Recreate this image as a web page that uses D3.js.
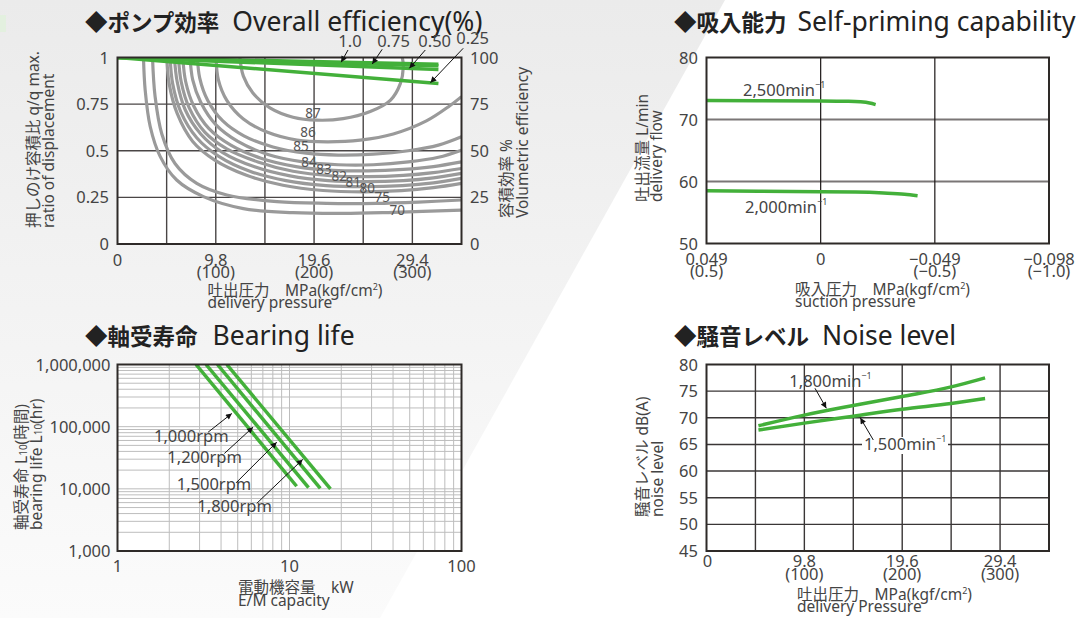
<!DOCTYPE html>
<html><head><meta charset="utf-8">
<script src="https://cdn.jsdelivr.net/npm/d3@7"></script>
<style>
body{margin:0;background:#fff;}
svg{display:block;font-family:"Noto Sans","Noto Sans CJK JP",sans-serif;}
</style></head><body>
<svg id="c" width="1084" height="618"></svg>
<script>
// ---------- DATA ----------
// Panel 1: overall efficiency
const pressureGrid = [4.9, 9.8, 14.7, 19.6, 24.5, 29.4];
const pressureTicks = [0, 9.8, 19.6, 29.4];
const pressureTickKgf = ["", "(100)", "(200)", "(300)"];
const ratioTicks = [0, 0.25, 0.5, 0.75, 1];
const ratioTickLabels = ["0", "0.25", "0.5", "0.75", "1"];
const volTicks = [0, 25, 50, 75, 100];
const effLevels = ["87", "86", "85", "84", "83", "82", "81", "80", "", "75", "70"];
const eff87 = [[12.2,1.0],[12.55,0.90],[13.5,0.81],[15.2,0.73],[17.5,0.68],[19.9,0.664],[22.5,0.672],[25.2,0.71],[27.2,0.77],[28.2,0.86],[28.5,0.95],[28.4,1.0]];
const eff86 = [[9.83,1.0],[10.06,0.88],[10.9,0.77],[12.55,0.67],[14.9,0.60],[17.9,0.557],[20.9,0.548],[24.2,0.557],[27.5,0.59],[30.8,0.66],[33.1,0.74],[34.3,0.79]];
const eff85 = [[7.97,1.0],[8.2,0.89],[9.0,0.77],[10.5,0.66],[12.6,0.58],[15.5,0.52],[18.8,0.487],[22.0,0.477],[25.5,0.482],[29.0,0.50],[32.0,0.53],[34.3,0.575]];
const eff84 = [[7.24,1.0],[7.5,0.88],[8.3,0.76],[9.8,0.64],[12.0,0.55],[15.0,0.48],[18.5,0.44],[22.0,0.425],[25.5,0.425],[29.0,0.44],[32.0,0.465],[34.3,0.503]];
const eff83 = [[6.51,1.0],[6.8,0.87],[7.6,0.74],[9.1,0.62],[11.3,0.53],[14.3,0.46],[17.8,0.415],[21.5,0.395],[25.0,0.392],[28.5,0.40],[31.5,0.415],[34.3,0.44]];
const eff82 = [[6.08,1.0],[6.35,0.87],[7.15,0.73],[8.7,0.60],[10.9,0.51],[14.0,0.44],[17.5,0.39],[21.2,0.366],[25.0,0.361],[28.5,0.368],[31.5,0.383],[34.3,0.405]];
const eff81 = [[5.68,1.0],[5.95,0.87],[6.75,0.72],[8.3,0.59],[10.5,0.49],[13.6,0.415],[17.2,0.365],[21.0,0.34],[24.8,0.334],[28.5,0.34],[31.5,0.355],[34.3,0.379]];
const eff80 = [[5.25,1.0],[5.5,0.86],[6.3,0.71],[7.9,0.57],[10.1,0.47],[13.2,0.39],[16.8,0.34],[20.8,0.313],[24.6,0.307],[28.4,0.313],[31.5,0.328],[34.3,0.352]];
const eff79 = [[4.92,1.0],[5.15,0.86],[5.95,0.70],[7.5,0.55],[9.7,0.45],[12.8,0.37],[16.5,0.315],[20.5,0.287],[24.5,0.28],[28.3,0.286],[31.5,0.302],[34.3,0.325]];
const eff75 = [[3.49,1.0],[3.75,0.79],[4.42,0.59],[5.75,0.43],[7.9,0.325],[10.9,0.263],[15.9,0.227],[20.85,0.218],[25.8,0.218],[30.0,0.225],[34.3,0.236]];
const eff70 = [[2.59,1.0],[2.76,0.825],[3.26,0.63],[4.25,0.47],[5.9,0.343],[8.57,0.254],[12.55,0.19],[17.5,0.168],[22.5,0.164],[27.5,0.170],[34.3,0.182]];
const effCurves = [eff87, eff86, eff85, eff84, eff83, eff82, eff81, eff80, eff79, eff75, eff70];
const effLabelAt = [[19.5,0.703],[19.0,0.602],[18.3,0.525],[19.1,0.441],[20.6,0.400],[22.1,0.366],[23.5,0.334],[24.9,0.298],null,[26.4,0.250],[27.9,0.182]];
const volRatioLabels = ["1.0", "0.75", "0.50", "0.25"];
const vol100 = [[0,100],[32,96.4]];
const vol075 = [[0,100],[32,95.6]];
const vol050 = [[0,100],[32,93.6]];
const vol025 = [[0,100],[32,86.1]];
const volLines = [vol100, vol075, vol050, vol025];
const volArrowTipP = [22.3, 25.4, 29.1, 31.2];

// Panel 2: self-priming
const suctionTicks = [0.049, 0, -0.049, -0.098];
const suctionTickLabels = ["0.049", "0", "\u22120.049", "\u22120.098"];
const suctionTickKgf = ["(0.5)", "", "(\u22120.5)", "(\u22121.0)"];
const suctionGrid = [0, -0.049];
const flowTicks = [50, 60, 70, 80];
const flowGrid = [60, 70];
const flow2500 = [[0.049,73.05],[0,73.0],[-0.012,72.95],[-0.017,72.85],[-0.021,72.65],[-0.0236,72.4]];
const flow2000 = [[0.049,58.5],[0,58.35],[-0.015,58.3],[-0.027,58.15],[-0.036,57.95],[-0.0416,57.7]];

// Panel 3: bearing life
const kwTicks = [1, 10, 100];
const lifeTicks = [1000, 10000, 100000, 1000000];
const lifeTickLabels = ["1,000", "10,000", "100,000", "1,000,000"];
const rpmLabels = ["1,000rpm", "1,200rpm", "1,500rpm", "1,800rpm"];
const life1000 = [[2.86,1e6],[11.0,11000]];
const life1200 = [[3.27,1e6],[12.9,10500]];
const life1500 = [[3.81,1e6],[15.1,10200]];
const life1800 = [[4.32,1e6],[17.3,10000]];
const lifeLines = [life1000, life1200, life1500, life1800];
const lifeArrowTips = [[4.62,163000],[6.14,98200],[8.43,56300],[11.93,29700]];

// Panel 4: noise level
const noiseTicks = [45, 50, 55, 60, 65, 70, 75, 80];
const noise1800 = [[5.2,68.5],[9.8,70.5],[14.7,72.3],[19.6,74.0],[24.5,75.8],[27.9,77.5]];
const noise1500 = [[5.2,67.7],[9.8,69.0],[14.7,70.3],[19.6,71.6],[24.5,72.7],[27.9,73.6]];
const noiseArrowTips = [[12.0,71.8],[15.4,70.0]];

// ---------- DRAW ----------
const svg = d3.select("#c");
const GREEN = "#43b03a", GREY_CURVE = "#9a9a9a", TXT = "#444";
const TICK_FS = 16.5, AX_FS = 15.5;

const defs = svg.append("defs");
const bg = defs.append("linearGradient").attr("id","bgL").attr("x1",0).attr("y1",0).attr("x2",0).attr("y2",1);
bg.append("stop").attr("offset",0).attr("stop-color","#ebebeb");
bg.append("stop").attr("offset",1).attr("stop-color","#fbfbfb");
svg.append("rect").attr("width",1084).attr("height",618).attr("fill","#fff");
svg.append("path").attr("d","M0,0 L725,0 L380,618 L0,618 Z").attr("fill","url(#bgL)");
svg.append("rect").attr("x",0).attr("y",15).attr("width",6).attr("height",17).attr("fill","#e3f0df");

const mk = defs.append("marker").attr("id","arr").attr("viewBox","0 0 10 10").attr("refX",10).attr("refY",5)
  .attr("markerWidth",8).attr("markerHeight",6).attr("markerUnits","userSpaceOnUse").attr("orient","auto");
mk.append("path").attr("d","M0,0 L10,5 L0,10 Z").attr("fill","#111");

function title(x, y, jp, en, dx) {
  const t = svg.append("text").attr("x", x).attr("y", y).attr("fill", "#222");
  t.append("tspan").attr("font-weight", "bold").attr("font-size", 22.5).text(jp);
  t.append("tspan").attr("dx", dx).attr("font-size", 26.5).text(en);
}
function supText(g, x, y, base, sup, fs) {
  const t = g.append("text").attr("x", x).attr("y", y).attr("font-size", fs).attr("fill", TXT);
  t.append("tspan").text(base);
  t.append("tspan").attr("font-size", 9).attr("dy", -8).text(sup);
  return t;
}
function axisTitle(g, x, y, jp, en, lh) {
  const t = g.append("text").attr("x", x).attr("y", y).attr("font-size", AX_FS).attr("fill", TXT);
  t.append("tspan").text(jp + "\u3000MPa(kgf/cm");
  t.append("tspan").attr("font-size", 9).attr("dy", -6).text("2");
  t.append("tspan").attr("dy", 6).text(")");
  t.append("tspan").attr("x", x).attr("dy", lh).text(en);
}
function vlabel(xb1, xb2, ystart, l1, l2) {
  const t = svg.append("text").attr("transform", `translate(${xb1},${ystart}) rotate(-90)`)
    .attr("font-size", AX_FS).attr("fill", TXT);
  [l1, l2].forEach((parts, li) => {
    parts.forEach((p, pi) => {
      const ts = t.append("tspan").text(p.t);
      if (li === 1 && pi === 0) ts.attr("x", 0).attr("y", xb2 - xb1);
      if (p.sub) ts.attr("font-size", 10);
    });
  });
}
function frame(g, x0, y0, x1, y1) {
  g.append("rect").attr("x", x0).attr("y", y0).attr("width", x1 - x0).attr("height", y1 - y0)
    .attr("fill", "none").attr("stroke", "#2e2a28").attr("stroke-width", 2);
}
function plotBg(g, x0, y0, x1, y1, id) {
  g.append("rect").attr("x", x0).attr("y", y0).attr("width", x1 - x0).attr("height", y1 - y0).attr("fill", "#fff");
  defs.append("clipPath").attr("id", id).append("rect").attr("x", x0).attr("y", y0).attr("width", x1 - x0).attr("height", y1 - y0);
}
function arrow(g, x1, y1, x2, y2) {
  g.append("line").attr("x1", x1).attr("y1", y1).attr("x2", x2).attr("y2", y2)
    .attr("stroke", "#111").attr("stroke-width", 1).attr("marker-end", "url(#arr)");
}
function twoLineTick(g, x, y, l1, l2, lh) {
  const t = g.append("text").attr("x", x).attr("y", y).attr("text-anchor", "middle")
    .attr("font-size", TICK_FS).attr("fill", TXT);
  t.append("tspan").attr("x", x).text(l1);
  if (l2) t.append("tspan").attr("x", x).attr("dy", lh).text(l2);
}

// ===== Panel 1 =====
title(85, 31, "◆ポンプ効率", "Overall efficiency(%)", 13);
const x1 = d3.scaleLinear().domain([0, 34.3]).range([117.5, 461.5]);
const y1 = d3.scaleLinear().domain([0, 1]).range([244, 57.5]);
const y1r = d3.scaleLinear().domain([0, 100]).range([244, 57.5]);
const g1 = svg.append("g");
plotBg(g1, x1(0), y1(1), x1(34.3), y1(0), "clip1");
g1.selectAll(".vg").data(pressureGrid).join("line").attr("x1", d => x1(d)).attr("x2", d => x1(d))
  .attr("y1", y1(0)).attr("y2", y1(1)).attr("stroke", "#4a4646").attr("stroke-width", 1.4);
g1.selectAll(".hg").data(ratioTicks.slice(1, -1)).join("line").attr("y1", d => y1(d)).attr("y2", d => y1(d))
  .attr("x1", x1(0)).attr("x2", x1(34.3)).attr("stroke", "#4a4646").attr("stroke-width", 1.4);
const cg1 = g1.append("g").attr("clip-path", "url(#clip1)");
const lineEff = d3.line().x(d => x1(d[0])).y(d => y1(d[1])).curve(d3.curveCatmullRom.alpha(0.5));
cg1.selectAll(".eff").data(effCurves).join("path").attr("d", lineEff).attr("fill", "none")
  .attr("stroke", GREY_CURVE).attr("stroke-width", 3.2);
g1.selectAll(".effl").data(effLevels.map((l, i) => [l, effLabelAt[i]]).filter(d => d[1])).join("text")
  .attr("x", d => x1(d[1][0])).attr("y", d => y1(d[1][1]) + 5).attr("text-anchor", "middle")
  .attr("font-size", 13.5).attr("fill", "#555").text(d => d[0]);
const lineVol = d3.line().x(d => x1(d[0])).y(d => y1r(d[1]));
cg1.selectAll(".vol").data(volLines).join("path").attr("d", lineVol).attr("fill", "none")
  .attr("stroke", GREEN).attr("stroke-width", 3.5);
frame(g1, x1(0), y1(1), x1(34.3), y1(0));
const volLabelPos = [[350, 49], [393.5, 49], [434.7, 49], [472.6, 46]];
const volTail = [[348, 50], [382.2, 49.3], [425.3, 50], [463.2, 48.3]];
volRatioLabels.forEach((l, i) => {
  g1.append("text").attr("x", volLabelPos[i][0]).attr("y", volLabelPos[i][1] - 2).attr("text-anchor", "middle")
    .attr("font-size", TICK_FS).attr("fill", TXT).text(l);
  const p = volArrowTipP[i];
  const v = volLines[i][0][1] + (volLines[i][1][1] - volLines[i][0][1]) * p / volLines[i][1][0];
  arrow(g1, volTail[i][0], volTail[i][1], x1(p), y1r(v));
});
g1.selectAll(".yl").data(ratioTicks).join("text").attr("x", x1(0) - 8.5).attr("y", d => y1(d) + 6)
  .attr("text-anchor", "end").attr("font-size", TICK_FS).attr("fill", TXT).text((d, i) => ratioTickLabels[i]);
g1.selectAll(".yr").data(volTicks).join("text").attr("x", x1(34.3) + 8.5).attr("y", d => y1r(d) + 6)
  .attr("text-anchor", "start").attr("font-size", TICK_FS).attr("fill", TXT).text(d => d);
pressureTicks.forEach((d, i) => twoLineTick(g1, x1(d), y1(0) + 22, d === 0 ? "0" : d.toFixed(1), pressureTickKgf[i], 12));
axisTitle(g1, 207.5, 296, "吐出圧力", "delivery pressure", 12);
vlabel(39, 54, 228, [{t: "押しのけ容積比  q/q max."}], [{t: "ratio of displacement"}]);
vlabel(512, 528, 218, [{t: "容積効率  %"}], [{t: "Volumetric efficiency"}]);

// ===== Panel 2 =====
title(674, 31, "◆吸入能力", "Self-priming capability", 11);
const x2 = d3.scaleLinear().domain([0.049, -0.098]).range([706.5, 1049]);
const y2 = d3.scaleLinear().domain([50, 80]).range([243.5, 57.5]);
const g2 = svg.append("g");
plotBg(g2, x2(0.049), y2(80), x2(-0.098), y2(50), "clip2");
g2.selectAll(".hg").data(flowGrid).join("line").attr("y1", d => y2(d)).attr("y2", d => y2(d))
  .attr("x1", x2(0.049)).attr("x2", x2(-0.098)).attr("stroke", "#7a7676").attr("stroke-width", 2);
g2.selectAll(".vg").data(suctionGrid).join("line").attr("x1", d => x2(d)).attr("x2", d => x2(d))
  .attr("y1", y2(50)).attr("y2", y2(80)).attr("stroke", "#1a1616").attr("stroke-width", 1.2);
const lineFlow = d3.line().x(d => x2(d[0])).y(d => y2(d[1])).curve(d3.curveMonotoneX);
g2.append("g").attr("clip-path", "url(#clip2)").selectAll("path").data([flow2500, flow2000]).join("path")
  .attr("d", d => lineFlow(d.slice().reverse())).attr("fill", "none").attr("stroke", GREEN).attr("stroke-width", 3.5);
frame(g2, x2(0.049), y2(80), x2(-0.098), y2(50));
g2.selectAll(".yl").data(flowTicks).join("text").attr("x", x2(0.049) - 8.5).attr("y", d => y2(d) + 6)
  .attr("text-anchor", "end").attr("font-size", TICK_FS).attr("fill", TXT).text(d => d);
suctionTicks.forEach((d, i) => twoLineTick(g2, x2(d), y2(50) + 21, suctionTickLabels[i], suctionTickKgf[i], 12));
supText(g2, 743, 96, "2,500min", "\u22121", TICK_FS);
supText(g2, 745, 213, "2,000min", "\u22121", TICK_FS);
{
  const t = g2.append("text").attr("x", 795).attr("y", 295).attr("font-size", AX_FS).attr("fill", TXT);
  t.append("tspan").text("吸入圧力\u3000MPa(kgf/cm");
  t.append("tspan").attr("font-size", 9).attr("dy", -6).text("2");
  t.append("tspan").attr("dy", 6).text(")");
  t.append("tspan").attr("x", 795).attr("dy", 12).text("suction pressure");
}
vlabel(647.5, 662, 202, [{t: "吐出流量  L/min"}], [{t: "delivery flow"}]);

// ===== Panel 3 =====
title(85, 345, "◆軸受寿命", "Bearing life", 15);
const x3 = d3.scaleLog().domain([1, 100]).range([117.5, 461.5]);
const y3 = d3.scaleLog().domain([1000, 1e6]).range([551, 364.5]);
const g3 = svg.append("g");
plotBg(g3, x3(1), y3(1e6), x3(100), y3(1000), "clip3");
g3.selectAll(".vg").data(x3.ticks()).join("line").attr("x1", d => x3(d)).attr("x2", d => x3(d))
  .attr("y1", y3(1000)).attr("y2", y3(1e6)).attr("stroke", "#bdbdbd").attr("stroke-width", 1);
g3.selectAll(".hg").data(y3.ticks()).join("line").attr("y1", d => y3(d)).attr("y2", d => y3(d))
  .attr("x1", x3(1)).attr("x2", x3(100)).attr("stroke", "#bdbdbd").attr("stroke-width", 1);
const lineLife = d3.line().x(d => x3(d[0])).y(d => y3(d[1]));
g3.append("g").attr("clip-path", "url(#clip3)").selectAll("path").data(lifeLines).join("path")
  .attr("d", lineLife).attr("fill", "none").attr("stroke", GREEN).attr("stroke-width", 3.5);
frame(g3, x3(1), y3(1e6), x3(100), y3(1000));
g3.selectAll(".yl").data(lifeTicks).join("text").attr("x", x3(1) - 7).attr("y", d => y3(d) + 6)
  .attr("text-anchor", "end").attr("font-size", TICK_FS).attr("fill", TXT).text((d, i) => lifeTickLabels[i]);
g3.selectAll(".xl").data(kwTicks).join("text").attr("x", d => x3(d)).attr("y", y3(1000) + 21)
  .attr("text-anchor", "middle").attr("font-size", TICK_FS).attr("fill", TXT).text(d => d);
const rpmPos = [[154, 442], [167.3, 463.3], [176.7, 490], [197.3, 511.7]];
const rpmTailOff = [[-23.7, 18.7], [-28.7, 26.3], [-40.7, 40.7], [-46, 44]];
rpmLabels.forEach((l, i) => {
  g3.append("text").attr("x", rpmPos[i][0]).attr("y", rpmPos[i][1]).attr("font-size", TICK_FS).attr("fill", TXT).text(l);
  const tx = x3(lifeArrowTips[i][0]), ty = y3(lifeArrowTips[i][1]);
  arrow(g3, tx + rpmTailOff[i][0], ty + rpmTailOff[i][1], tx, ty);
});
{
  const t = g3.append("text").attr("x", 238).attr("y", 593).attr("font-size", AX_FS).attr("fill", TXT);
  t.append("tspan").text("電動機容量\u3000kW");
  t.append("tspan").attr("x", 238).attr("dy", 13).text("E/M capacity");
}
vlabel(27, 41.5, 530, [{t: "軸受寿命  L"}, {t: "10", sub: true}, {t: "(時間)"}], [{t: "bearing life  L"}, {t: "10", sub: true}, {t: "(hr)"}]);

// ===== Panel 4 =====
title(674, 345, "◆騒音レベル", "Noise level", 13);
const x4 = d3.scaleLinear().domain([0, 34.3]).range([706.5, 1049]);
const y4 = d3.scaleLinear().domain([45, 80]).range([551, 364.5]);
const g4 = svg.append("g");
plotBg(g4, x4(0), y4(80), x4(34.3), y4(45), "clip4");
g4.selectAll(".vg").data(pressureGrid).join("line").attr("x1", d => x4(d)).attr("x2", d => x4(d))
  .attr("y1", y4(45)).attr("y2", y4(80)).attr("stroke", "#3a3636").attr("stroke-width", 1.4);
g4.selectAll(".hg").data(noiseTicks.slice(1, -1)).join("line").attr("y1", d => y4(d)).attr("y2", d => y4(d))
  .attr("x1", x4(0)).attr("x2", x4(34.3)).attr("stroke", "#3a3636").attr("stroke-width", 1.4);
const lineNoise = d3.line().x(d => x4(d[0])).y(d => y4(d[1])).curve(d3.curveMonotoneX);
g4.append("g").attr("clip-path", "url(#clip4)").selectAll("path").data([noise1800, noise1500]).join("path")
  .attr("d", lineNoise).attr("fill", "none").attr("stroke", GREEN).attr("stroke-width", 3.5);
frame(g4, x4(0), y4(80), x4(34.3), y4(45));
g4.selectAll(".yl").data(noiseTicks).join("text").attr("x", x4(0) - 8.5).attr("y", d => y4(d) + 6)
  .attr("text-anchor", "end").attr("font-size", TICK_FS).attr("fill", TXT).text(d => d);
pressureTicks.forEach((d, i) => twoLineTick(g4, x4(d) + (d === 0 ? 1 : 0), y4(45) + 16, d === 0 ? "0" : d.toFixed(1), pressureTickKgf[i], 13));
supText(g4, 789.3, 387.3, "1,800min", "\u22121", TICK_FS);
g4.append("rect").attr("x", 862).attr("y", 437).attr("width", 86).attr("height", 17).attr("fill", "#fff");
supText(g4, 864, 450, "1,500min", "\u22121", TICK_FS);
const noiseTails = [[815, 388.3], [873.3, 440]];
noiseArrowTips.forEach((tp, i) => arrow(g4, noiseTails[i][0], noiseTails[i][1], x4(tp[0]), y4(tp[1])));
axisTitle(g4, 797, 600, "吐出圧力", "delivery Pressure", 11.5);
vlabel(648, 663, 517, [{t: "騒音レベル dB(A)"}], [{t: "noise level"}]);
</script>
</body></html>
